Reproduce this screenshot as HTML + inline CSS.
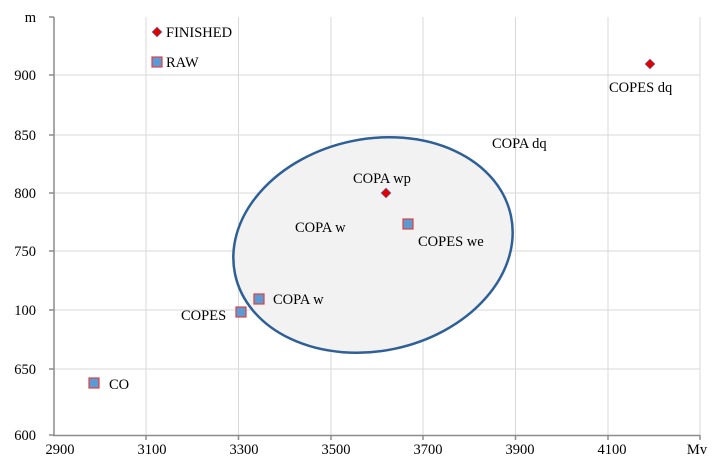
<!DOCTYPE html>
<html><head><style>
body{margin:0;background:#fff}
svg text{font-family:"Liberation Serif",serif;font-size:14.5px;fill:#000}
</style></head><body>
<svg width="720" height="468" viewBox="0 0 720 468">
<g stroke="#d9d9d9" stroke-width="1">
<line x1="54" y1="75" x2="700" y2="75"/><line x1="54" y1="135" x2="700" y2="135"/>
<line x1="54" y1="193" x2="700" y2="193"/><line x1="54" y1="251" x2="700" y2="251"/>
<line x1="54" y1="310" x2="700" y2="310"/><line x1="54" y1="369" x2="700" y2="369"/>
<line x1="146" y1="17" x2="146" y2="435"/><line x1="238.5" y1="17" x2="238.5" y2="435"/>
<line x1="331" y1="17" x2="331" y2="435"/><line x1="423" y1="17" x2="423" y2="435"/>
<line x1="515.5" y1="17" x2="515.5" y2="435"/><line x1="608" y1="17" x2="608" y2="435"/>
<line x1="700" y1="17" x2="700" y2="435"/>
</g>
<g stroke="#8c8c8c" stroke-width="1.5">
<line x1="54" y1="17" x2="54" y2="436"/><line x1="53" y1="435.5" x2="700" y2="435.5"/>
<line x1="49" y1="17" x2="54" y2="17"/><line x1="49" y1="75" x2="54" y2="75"/><line x1="49" y1="135" x2="54" y2="135"/>
<line x1="49" y1="193" x2="54" y2="193"/><line x1="49" y1="251" x2="54" y2="251"/><line x1="49" y1="310" x2="54" y2="310"/>
<line x1="49" y1="369" x2="54" y2="369"/><line x1="49" y1="435" x2="54" y2="435"/>
<line x1="146" y1="435" x2="146" y2="440"/><line x1="238.5" y1="435" x2="238.5" y2="440"/><line x1="331" y1="435" x2="331" y2="440"/>
<line x1="423" y1="435" x2="423" y2="440"/><line x1="515.5" y1="435" x2="515.5" y2="440"/><line x1="608" y1="435" x2="608" y2="440"/>
<line x1="700" y1="435" x2="700" y2="440"/>
</g>
<g text-anchor="end">
<text x="36" y="22">m</text><text x="36" y="80">900</text><text x="36" y="140">850</text>
<text x="36" y="198">800</text><text x="36" y="256">750</text><text x="36" y="315">100</text>
<text x="36" y="374">650</text><text x="36" y="440">600</text>
</g>
<g text-anchor="middle">
<text x="60" y="454">2900</text><text x="152" y="454">3100</text><text x="244" y="454">3300</text>
<text x="336" y="454">3500</text><text x="428" y="454">3700</text><text x="520" y="454">3900</text>
<text x="612" y="454">4100</text><text x="697" y="454">Mv</text>
</g>
<g transform="rotate(-12 373 245)">
<ellipse cx="373" cy="245" rx="141" ry="106" fill="#f2f2f2" stroke="#2e5f96" stroke-width="2.5"/>
</g>
<g fill="#5b9bd5" stroke="#e04040" stroke-width="1.2">
<rect x="152" y="57" width="10" height="10"/><rect x="89" y="378" width="10" height="10"/>
<rect x="236" y="307" width="10" height="10"/><rect x="254" y="294" width="10" height="10"/>
<rect x="403" y="219" width="10" height="10"/>
</g>
<g fill="#e00000" stroke="#5b7fc0" stroke-width="0.6">
<path d="M157 27 l5 5 -5 5 -5 -5z"/><path d="M650 59 l5 5 -5 5 -5 -5z"/><path d="M386 188 l5 5 -5 5 -5 -5z"/>
</g>
<text x="166" y="37">FINISHED</text><text x="166" y="67">RAW</text>
<text x="609" y="92">COPES dq</text><text x="492" y="148">COPA dq</text>
<text x="353" y="183">COPA wp</text><text x="295" y="232">COPA w</text>
<text x="418" y="246">COPES we</text><text x="273" y="304">COPA w</text>
<text x="181" y="320">COPES</text><text x="109" y="389">CO</text>
</svg>
</body></html>
